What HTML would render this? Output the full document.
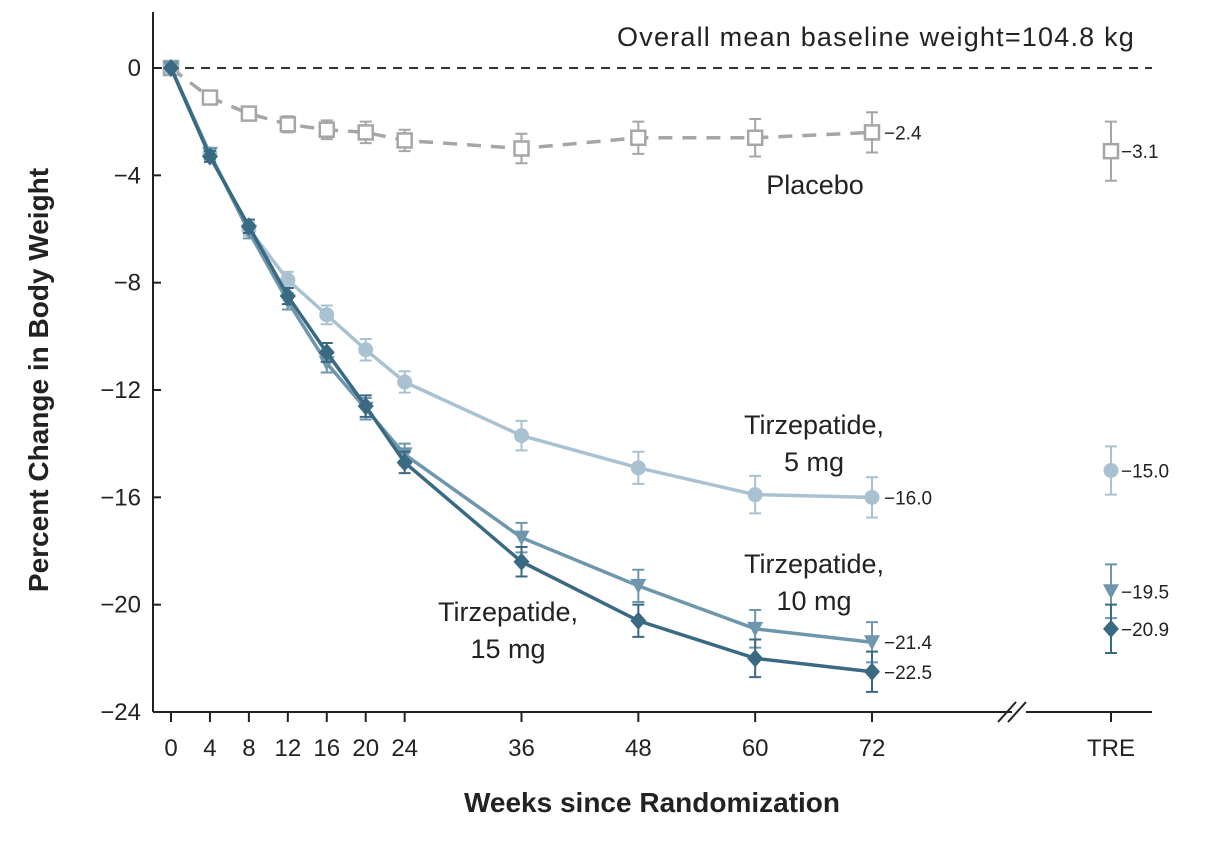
<!DOCTYPE html>
<html><head><meta charset="utf-8"><style>
body{margin:0;background:#fff;}
svg text{font-family:"Liberation Sans",sans-serif;}
</style></head><body>
<svg id="chart" width="1230" height="844" xmlns="http://www.w3.org/2000/svg">
<g id="axes"></g><g id="series"></g>
</svg>
<script>
const weeks=[0,4,8,12,16,20,24,36,48,60,72];
const placebo=[0,-1.1,-1.7,-2.1,-2.3,-2.4,-2.7,-3.0,-2.6,-2.6,-2.4];
const mg5=[0,-3.2,-6.0,-7.9,-9.2,-10.5,-11.7,-13.7,-14.9,-15.9,-16.0];
const mg10=[0,-3.2,-6.1,-8.7,-11.0,-12.7,-14.4,-17.5,-19.3,-20.9,-21.4];
const mg15=[0,-3.3,-5.9,-8.5,-10.6,-12.6,-14.7,-18.4,-20.6,-22.0,-22.5];
const errs=[0,0.2,0.25,0.3,0.35,0.4,0.4,0.55,0.6,0.7,0.75];
const treValues=[-3.1,-15.0,-19.5,-20.9];
const treErr=[1.1,0.9,1.0,0.9];
const yTicks=[0,-4,-8,-12,-16,-20,-24];
const xTicks=[0,4,8,12,16,20,24,36,48,60,72];
const NS="http://www.w3.org/2000/svg";
const X=w=>171+w*(701/72);
const XTRE=1111;
const Y=v=>68-v*(644/24);
const ax=document.getElementById('axes'), sg=document.getElementById('series');
function mk(p,tag,at,txt){const e=document.createElementNS(NS,tag);for(const k in at)e.setAttribute(k,at[k]);if(txt!==undefined)e.textContent=txt;p.appendChild(e);return e;}
let e;
e=mk(ax,'line',{x1:153,y1:12,x2:153,y2:712,stroke:'#222','stroke-width':2});


e=mk(ax,'path',{d:'M153 712H1012 M1026 712H1152',stroke:'#222','stroke-width':2,fill:'none'});


e=mk(ax,'path',{d:'M998 722L1016 702 M1008 722L1026 702',stroke:'#222','stroke-width':2});


e=mk(ax,'line',{x1:153,y1:Y(0),x2:1152,y2:Y(0),stroke:'#333','stroke-width':2,'stroke-dasharray':'9 7'});


yTicks.forEach(t=>{
 mk(ax,'line',{x1:153,y1:Y(t),x2:161,y2:Y(t),stroke:'#222','stroke-width':2});
 e=mk(ax,'text',{x:141,y:Y(t)+8,'text-anchor':'end','font-size':24,fill:'#222'},t===0?'0':'\u2212'+Math.abs(t));
 
 
});
xTicks.forEach(t=>{
 mk(ax,'line',{x1:X(t),y1:712,x2:X(t),y2:722,stroke:'#222','stroke-width':2});
 e=mk(ax,'text',{x:X(t),y:756,'text-anchor':'middle','font-size':24,fill:'#222'},String(t));
 
 
});
mk(ax,'line',{x1:XTRE,y1:712,x2:XTRE,y2:722,stroke:'#222','stroke-width':2});
e=mk(ax,'text',{x:XTRE,y:756,'text-anchor':'middle','font-size':24,fill:'#222'},'TRE');


e=mk(ax,'text',{x:652,y:812,'text-anchor':'middle','font-size':28,'font-weight':'bold',fill:'#222'},'Weeks since Randomization');


e=mk(ax,'text',{x:0,y:0,transform:'translate(48,380) rotate(-90)','text-anchor':'middle','font-size':28,'font-weight':'bold',fill:'#222'},'Percent Change in Body Weight');


e=mk(ax,'text',{x:1135,y:46,'text-anchor':'end','font-size':27,'letter-spacing':'1.2',fill:'#222'},'Overall mean baseline weight=104.8 kg');



function marker(g,shape,x,y,c){
 if(shape==='square')return mk(g,'rect',{x:x-7,y:y-7,width:14,height:14,fill:'#fff',stroke:c,'stroke-width':2.5});
 if(shape==='circle')return mk(g,'circle',{cx:x,cy:y,r:7.5,fill:c});
 if(shape==='tri')return mk(g,'path',{d:`M${x-8} ${y-7}H${x+8}L${x} ${y+8}Z`,fill:c});
 return mk(g,'path',{d:`M${x} ${y-9}L${x+8} ${y}L${x} ${y+9}L${x-8} ${y}Z`,fill:c});
}
function errbar(g,x,v,er,c){
 mk(g,'path',{d:`M${x} ${Y(v+er)}V${Y(v-er)} M${x-6} ${Y(v+er)}H${x+6} M${x-6} ${Y(v-er)}H${x+6}`,stroke:c,'stroke-width':2,fill:'none'});
}
const series=[
 {name:'placebo',vals:placebo,c:'#a6a6a6',shape:'square',dash:'14 10',label:'\u22122.4',ti:0},
 {name:'tirzepatide-5mg',vals:mg5,c:'#a8c2d1',shape:'circle',dash:null,label:'\u221216.0',ti:1},
 {name:'tirzepatide-10mg',vals:mg10,c:'#6e96ad',shape:'tri',dash:null,label:'\u221221.4',ti:2},
 {name:'tirzepatide-15mg',vals:mg15,c:'#3a6982',shape:'diamond',dash:null,label:'\u221222.5',ti:3}
];
series.forEach(s=>{
 const g=mk(sg,'g',{});
 
 
 const d=s.vals.map((v,i)=>(i?'L':'M')+X(weeks[i])+' '+Y(v)).join(' ');
 const at={d:d,stroke:s.c,'stroke-width':3.5,fill:'none'};
 if(s.dash)at['stroke-dasharray']=s.dash;
 e=mk(g,'path',at);
 
 
 s.vals.forEach((v,i)=>{
  if(i>0)errbar(g,X(weeks[i]),v,errs[i],s.c);
  e=marker(g,s.shape,X(weeks[i]),Y(v),s.c);
  
  
 });
 const last=s.vals[s.vals.length-1];
 e=mk(g,'text',{x:X(72)+12,y:Y(last)+7,'font-size':19,fill:'#222'},s.label);
 
 
 const tv=treValues[s.ti];
 errbar(g,XTRE,tv,treErr[s.ti],s.c);
 e=marker(g,s.shape,XTRE,Y(tv),s.c);
 
 
 e=mk(g,'text',{x:XTRE+10,y:Y(tv)+7,'font-size':19,fill:'#222'},'\u2212'+Math.abs(tv).toFixed(1));
 
 
});
const labels=[['Placebo',815,194,'placebo-label'],['Tirzepatide,',814,434,'tirzepatide-5mg-label'],['5 mg',814,471,'tirzepatide-5mg-label-dose'],['Tirzepatide,',814,573,'tirzepatide-10mg-label'],['10 mg',814,610,'tirzepatide-10mg-label-dose'],['Tirzepatide,',508,621,'tirzepatide-15mg-label'],['15 mg',508,658,'tirzepatide-15mg-label-dose']];
labels.forEach(l=>{
 e=mk(ax,'text',{x:l[1],y:l[2],'text-anchor':'middle','font-size':27,fill:'#222'},l[0]);
 
 
});
</script>
</body></html>
